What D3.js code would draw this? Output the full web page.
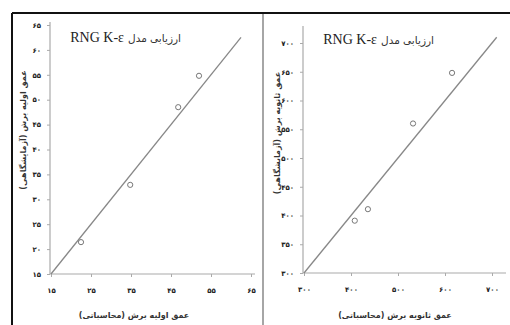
<!DOCTYPE html>
<html>
<head>
<meta charset="utf-8">
<script src="https://cdn.jsdelivr.net/npm/d3@7"></script>
<style>
  html, body { margin: 0; padding: 0; background: #fff; }
  svg { display: block; }
</style>
</head>
<body>
<svg id="chart" width="510" height="325"></svg>
<script>
// Primary scour depth: computed (x) vs laboratory (y)
const primaryComputed = [22.5, 34.8, 46.8, 52.0];
const primaryMeasured = [21.4, 32.9, 48.5, 54.8];
const primaryXTicks = [15, 25, 35, 45, 55, 65];
const primaryYTicks = [15, 20, 25, 30, 35, 40, 45, 50, 55, 60, 65];
const primaryLine = [15, 62.5];

// Secondary scour depth: computed (x) vs laboratory (y)
const secondaryComputed = [408, 436, 532, 615];
const secondaryMeasured = [391, 411, 560, 648];
const secondaryXTicks = [300, 400, 500, 600, 700];
const secondaryYTicks = [300, 350, 400, 450, 500, 550, 600, 650, 700];
const secondaryLine = [300, 710];

const titleModel = "RNG K-ε";
const titleWords = "ارزیابی مدل";
const xLabels = ["عمق اولیه برش (محاسباتی)", "عمق ثانویه برش (محاسباتی)"];
const yLabels = ["عمق اولیه برش (آزمایشگاهی)", "عمق ثانویه برش (آزمایشگاهی)"];

const faDigits = "۰۱۲۳۴۵۶۷۸۹";
const toFa = v => String(v).replace(/\d/g, d => faDigits[+d]);

const svg = d3.select("#chart");

// panel frame
svg.append("line").attr("x1", 12).attr("x2", 510).attr("y1", 13).attr("y2", 13)
  .attr("stroke", "#111").attr("stroke-width", 2);
svg.append("line").attr("x1", 12).attr("x2", 12).attr("y1", 13).attr("y2", 325)
  .attr("stroke", "#111").attr("stroke-width", 2);
svg.append("line").attr("x1", 263).attr("x2", 263).attr("y1", 14).attr("y2", 325)
  .attr("stroke", "#888").attr("stroke-width", 1.5);

const panels = [
  {
    xs: primaryComputed, ys: primaryMeasured, xt: primaryXTicks, yt: primaryYTicks, diag: primaryLine,
    xDom: [15, 65], xRange: [51, 251], yDom: [15, 65], yRange: [274, 25],
    xEnd: 255, yTop: 22, titleSplit: 126, titleY: 42,
    xLabel: xLabels[0], yLabel: yLabels[0], xLabelX: 134, yLabelX: 23, yLabelY: 130
  },
  {
    xs: secondaryComputed, ys: secondaryMeasured, xt: secondaryXTicks, yt: secondaryYTicks, diag: secondaryLine,
    xDom: [300, 700], xRange: [304, 492], yDom: [300, 700], yRange: [273, 43],
    xEnd: 506, yTop: 26, titleSplit: 379, titleY: 44,
    xLabel: xLabels[1], yLabel: yLabels[1], xLabelX: 395, yLabelX: 277, yLabelY: 133
  }
];

panels.forEach(p => {
  const x = d3.scaleLinear().domain(p.xDom).range(p.xRange);
  const y = d3.scaleLinear().domain(p.yDom).range(p.yRange);
  const g = svg.append("g");

  // x axis
  const xa = g.append("g").attr("transform", `translate(0,${p.yRange[0]})`)
    .call(d3.axisBottom(x).tickValues(p.xt).tickFormat(toFa).tickSize(3).tickSizeOuter(0).tickPadding(11));
  xa.select(".domain").attr("d", `M${p.xRange[0] - 1},0H${p.xEnd}`);

  // y axis
  const ya = g.append("g").attr("transform", `translate(${p.xRange[0] - 1},0)`)
    .call(d3.axisLeft(y).tickValues(p.yt).tickFormat(toFa).tickSize(3).tickSizeOuter(0).tickPadding(6));
  ya.select(".domain").attr("d", `M0,${p.yRange[0]}V${p.yTop}`);

  [xa, ya].forEach(a => {
    a.selectAll(".domain").attr("stroke", "#aaa").attr("stroke-width", 1.2);
    a.selectAll(".tick line").attr("stroke", "#aaa");
    a.selectAll(".tick text").attr("fill", "#222")
      .attr("font-family", "DejaVu Sans").attr("font-size", 7).attr("font-weight", "bold");
  });

  // 1:1 reference line
  g.append("line")
    .attr("x1", x(p.diag[0])).attr("y1", y(p.diag[0]))
    .attr("x2", x(p.diag[1])).attr("y2", y(p.diag[1]))
    .attr("stroke", "#888").attr("stroke-width", 1.3);

  // observations
  g.selectAll("circle.pt").data(p.xs.map((v, i) => [v, p.ys[i]])).join("circle")
    .attr("class", "pt")
    .attr("cx", d => x(d[0])).attr("cy", d => y(d[1])).attr("r", 2.6)
    .attr("fill", "none").attr("stroke", "#777").attr("stroke-width", 1);

  // title: model name on the left, Persian words on the right
  g.append("text").attr("x", p.titleSplit - 2).attr("y", p.titleY)
    .attr("text-anchor", "end")
    .attr("font-family", "Liberation Serif, DejaVu Serif, serif").attr("font-size", 14)
    .attr("fill", "#222").text(titleModel);
  g.append("text").attr("x", p.titleSplit + 2).attr("y", p.titleY)
    .attr("direction", "rtl").attr("text-anchor", "end")
    .attr("font-family", "DejaVu Sans").attr("font-size", 10.5)
    .attr("fill", "#333").text(titleWords);

  // axis titles
  g.append("text").attr("x", p.xLabelX).attr("y", 318)
    .attr("direction", "rtl").attr("text-anchor", "middle")
    .attr("font-family", "DejaVu Sans").attr("font-size", 8).attr("font-weight", "bold")
    .attr("fill", "#333").text(p.xLabel);
  g.append("text").attr("transform", `translate(${p.yLabelX},${p.yLabelY}) rotate(-90)`)
    .attr("direction", "rtl").attr("text-anchor", "middle").attr("dy", "0.35em")
    .attr("font-family", "DejaVu Sans").attr("font-size", 8).attr("font-weight", "bold")
    .attr("fill", "#333").text(p.yLabel);
});
</script>
</body>
</html>
